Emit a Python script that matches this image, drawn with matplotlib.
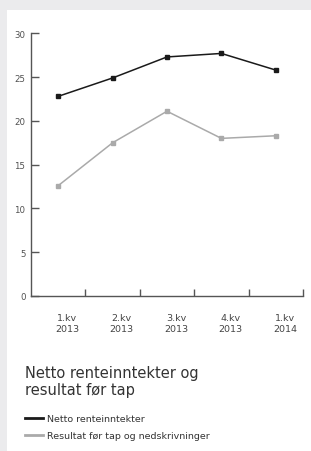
import matplotlib
matplotlib.use("Agg")
import matplotlib.pyplot as plt
from matplotlib.patches import Rectangle
from matplotlib.transforms import ScaledTranslation

# quarterly values
quarters = ["1.kv\n2013", "2.kv\n2013", "3.kv\n2013", "4.kv\n2013", "1.kv\n2014"]
netto_rente = [22.8, 24.9, 27.3, 27.7, 25.8]
resultat_for_tap = [12.6, 17.5, 21.1, 18.0, 18.3]
yticks = [0, 5, 10, 15, 20, 25, 30]

W, H = 311, 452
fig = plt.figure(figsize=(W / 100, H / 100), dpi=100)
fig.patch.set_facecolor("#ebebed")

# white card behind everything
fig.patches.append(Rectangle((7 / W, 0), 1, (H - 11) / H, transform=fig.transFigure,
                             facecolor="white", edgecolor="none", zorder=-10))

ax = fig.add_axes([31 / W, 155 / H, 272 / W, 262.7 / H])
ax.set_facecolor("none")
ax.set_zorder(1)

x = list(range(len(quarters)))
l1, = ax.plot(x, netto_rente, color="#1a1a1a", lw=1.1, marker="s", ms=3.0,
              label="Netto renteinntekter")
l2, = ax.plot(x, resultat_for_tap, color="#aaaaaa", lw=1.1, marker="s", ms=3.0,
              label="Resultat f\u00f8r tap og nedskrivninger")

ax.set_xlim(-0.5, len(quarters) - 0.5)
ax.set_ylim(0, 30)

for s in ["top", "right"]:
    ax.spines[s].set_visible(False)
for s in ["left", "bottom"]:
    ax.spines[s].set_color("#555555")
    ax.spines[s].set_linewidth(1.0)

ax.set_yticks(yticks)
ax.tick_params(axis="y", direction="in", length=6, width=1, color="#555555",
               labelsize=6.2, labelcolor="#505050", pad=4)
# ticks at the boundaries between quarters, labels near the quarters
ax.set_xticks([i + 0.5 for i in x])
ax.set_xticklabels([])
ax.set_xticks(x, minor=True)
ax.set_xticklabels(quarters, minor=True)
ax.tick_params(axis="x", which="major", direction="in", length=5, width=1,
               color="#555555")
ax.tick_params(axis="x", which="minor", length=0, labelsize=6.8,
               labelcolor="#444444", pad=12)
shift = ScaledTranslation(9 / 100, 0, fig.dpi_scale_trans)
for t in ax.get_xticklabels(minor=True):
    t.set_linespacing(1.4)
    t.set_transform(t.get_transform() + shift)

fig.text(25 / W, 1 - 366 / H, "Netto renteinntekter og\nresultat f\u00f8r tap",
         fontsize=10.5, color="#333333", va="top", ha="left", linespacing=1.2)

fig.legend(handles=[l1, l2], loc="upper left", bbox_to_anchor=(25 / W, 1 - 415 / H),
           frameon=False, fontsize=6.8, handlelength=1.9, handletextpad=0.4,
           labelspacing=0.85, borderaxespad=0, borderpad=0)
for h in fig.legends[0].legend_handles:
    h.set_marker("")
    h.set_linewidth(2)
for t in fig.legends[0].get_texts():
    t.set_color("#333333")

fig.savefig("out.png", dpi=100, facecolor=fig.get_facecolor())
